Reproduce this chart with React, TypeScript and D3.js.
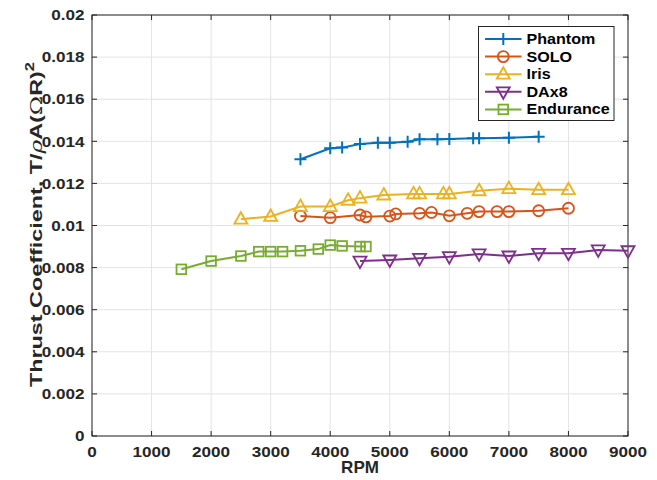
import React from "react";
import * as d3 from "d3";

const phantomRpm = [3500, 4000, 4200, 4500, 4800, 5000, 5300, 5500, 5800, 6000, 6400, 6500, 7000, 7500];
const phantomCt = [0.01315, 0.01367, 0.0137, 0.01387, 0.01393, 0.01393, 0.01398, 0.0141, 0.0141, 0.01411, 0.01414, 0.01414, 0.01417, 0.01422];

const soloRpm = [3500, 4000, 4500, 4600, 5000, 5100, 5500, 5700, 6000, 6300, 6500, 6800, 7000, 7500, 8000];
const soloCt = [0.01045, 0.01037, 0.0105, 0.01041, 0.01045, 0.01055, 0.01058, 0.01062, 0.01046, 0.01058, 0.01066, 0.01066, 0.01066, 0.0107, 0.01082];

const irisRpm = [2500, 3000, 3500, 4000, 4300, 4500, 4900, 5400, 5500, 5900, 6000, 6500, 7000, 7500, 8000];
const irisCt = [0.0103, 0.01043, 0.0109, 0.0109, 0.0112, 0.0113, 0.01145, 0.0115, 0.0115, 0.0115, 0.0115, 0.01165, 0.01175, 0.0117, 0.0117];

const dax8Rpm = [4500, 5000, 5500, 6000, 6500, 7000, 7500, 8000, 8500, 9000];
const dax8Ct = [0.00831, 0.00836, 0.00844, 0.00852, 0.00865, 0.00855, 0.00868, 0.00868, 0.00884, 0.0088];

const enduranceRpm = [1500, 2000, 2500, 2800, 3000, 3200, 3500, 3800, 4000, 4200, 4500, 4600];
const enduranceCt = [0.00792, 0.00831, 0.00855, 0.00876, 0.00876, 0.00876, 0.0088, 0.00888, 0.00907, 0.00903, 0.009, 0.009];

const xTicks = [0, 1000, 2000, 3000, 4000, 5000, 6000, 7000, 8000, 9000];
const yTicks = [0, 0.002, 0.004, 0.006, 0.008, 0.01, 0.012, 0.014, 0.016, 0.018, 0.02];
const yTickLabels = ["0", "0.002", "0.004", "0.006", "0.008", "0.01", "0.012", "0.014", "0.016", "0.018", "0.02"];

const seriesNames = ["Phantom", "SOLO", "Iris", "DAx8", "Endurance"];
const seriesColors = ["#0072BD", "#D95319", "#EDB120", "#7E2F8E", "#77AC30"];
const seriesMarkers = ["plus", "circle", "triangle", "triangleDown", "square"];

const W = 657;
const H = 480;
const L = 92, R = 628, T = 15, B = 436;
const FONT = "'Liberation Sans', Arial, Helvetica, sans-serif";
const AXIS = "#262626";
const SX = 1.14;

function Marker({ type, x, y, color }: { type: string; x: number; y: number; color: string }) {
  const sw = 1.8;
  if (type === "plus") {
    return <path d={`M${x - 6},${y}H${x + 6}M${x},${y - 6}V${y + 6}`} stroke={color} strokeWidth={2} fill="none" />;
  }
  if (type === "circle") {
    return <circle cx={x} cy={y} r={5.5} stroke={color} strokeWidth={sw} fill="none" />;
  }
  if (type === "triangle") {
    return <path d={`M${x},${y - 7}L${x + 6.5},${y + 4.5}L${x - 6.5},${y + 4.5}Z`} stroke={color} strokeWidth={sw} fill="none" />;
  }
  if (type === "triangleDown") {
    return <path d={`M${x},${y + 7}L${x + 6.5},${y - 4.5}L${x - 6.5},${y - 4.5}Z`} stroke={color} strokeWidth={sw} fill="none" />;
  }
  return <rect x={x - 4.8} y={y - 4.8} width={9.6} height={9.6} stroke={color} strokeWidth={sw} fill="none" />;
}

export default function App() {
  const x = d3.scaleLinear().domain([0, 9000]).range([L, R]);
  const y = d3.scaleLinear().domain([0, 0.02]).range([B, T]);
  const line = d3.line<[number, number]>().x((d) => x(d[0])).y((d) => y(d[1]));

  const series = [
    [phantomRpm, phantomCt],
    [soloRpm, soloCt],
    [irisRpm, irisCt],
    [dax8Rpm, dax8Ct],
    [enduranceRpm, enduranceCt],
  ].map(([r, c], i) => ({
    name: seriesNames[i],
    color: seriesColors[i],
    marker: seriesMarkers[i],
    pts: r.map((v, j) => [v, c[j]] as [number, number]),
  }));

  const legX = 478.5, legY = 26.5, legW = 135.5, legH = 94;
  const rowY = (i: number) => legY + 12.5 + i * 17.6;

  return (
    <svg width={W} height={H} style={{ position: "absolute", left: 0, top: 0, background: "#fff" }} fontFamily={FONT}>
      <rect x={0} y={0} width={W} height={H} fill="#fff" />
      {/* grid */}
      {xTicks.map((t) => (
        <line key={"gx" + t} x1={x(t)} x2={x(t)} y1={T} y2={B} stroke="#e3e3e3" strokeWidth={1} />
      ))}
      {yTicks.map((t) => (
        <line key={"gy" + t} x1={L} x2={R} y1={y(t)} y2={y(t)} stroke="#e3e3e3" strokeWidth={1} />
      ))}
      {/* ticks */}
      {xTicks.map((t) => (
        <g key={"tx" + t}>
          <line x1={x(t)} x2={x(t)} y1={B} y2={B - 5} stroke={AXIS} />
          <line x1={x(t)} x2={x(t)} y1={T} y2={T + 5} stroke={AXIS} />
          <text transform={`translate(${x(t)},${B + 20.5}) scale(${SX},1)`} textAnchor="middle" fontSize={15} fontWeight="bold" fill={AXIS}>
            {String(t)}
          </text>
        </g>
      ))}
      {yTicks.map((t, i) => (
        <g key={"ty" + t}>
          <line x1={L} x2={L + 5} y1={y(t)} y2={y(t)} stroke={AXIS} />
          <line x1={R} x2={R - 5} y1={y(t)} y2={y(t)} stroke={AXIS} />
          <text transform={`translate(${L - 7.5},${y(t) + 5.2}) scale(${SX},1)`} textAnchor="end" fontSize={15} fontWeight="bold" fill={AXIS}>
            {yTickLabels[i]}
          </text>
        </g>
      ))}
      <rect x={L} y={T} width={R - L} height={B - T} fill="none" stroke={AXIS} strokeWidth={1} />
      {/* series */}
      {series.map((s) => (
        <g key={s.name}>
          <path d={line(s.pts) || ""} stroke={s.color} strokeWidth={2} fill="none" />
          {s.pts.map((p, j) => (
            <Marker key={j} type={s.marker} x={x(p[0])} y={y(p[1])} color={s.color} />
          ))}
        </g>
      ))}
      {/* legend */}
      <rect x={legX} y={legY} width={legW} height={legH} fill="#fff" stroke={AXIS} strokeWidth={1} />
      {series.map((s, i) => (
        <g key={"leg" + s.name}>
          <line x1={485} x2={521.5} y1={rowY(i)} y2={rowY(i)} stroke={s.color} strokeWidth={2} />
          <Marker type={s.marker} x={503.3} y={rowY(i)} color={s.color} />
          <text transform={`translate(526.5,${rowY(i) + 5}) scale(1.15,1)`} fontSize={14} fontWeight="bold" fill="#000">
            {s.name}
          </text>
        </g>
      ))}
      {/* axis labels */}
      <text x={(L + R) / 2} y={473} textAnchor="middle" fontSize={17} fontWeight="bold" fill={AXIS}>
        RPM
      </text>
      <text
        transform={`translate(41.5,224.5) rotate(-90)`}
        x={-162.5}
        y={0}
        textLength={325}
        lengthAdjust="spacingAndGlyphs"
        fontSize={17}
        fontWeight="bold"
        fill={AXIS}
      >
        Thrust Coefficient, T/
        <tspan fontFamily="'DejaVu Serif', serif" fontStyle="italic" fontWeight="normal">ρ</tspan>
        A(
        <tspan fontFamily="'DejaVu Serif', serif" fontWeight="normal">Ω</tspan>
        R)
        <tspan dy={-8} fontSize={12}>2</tspan>
      </text>
    </svg>
  );
}
